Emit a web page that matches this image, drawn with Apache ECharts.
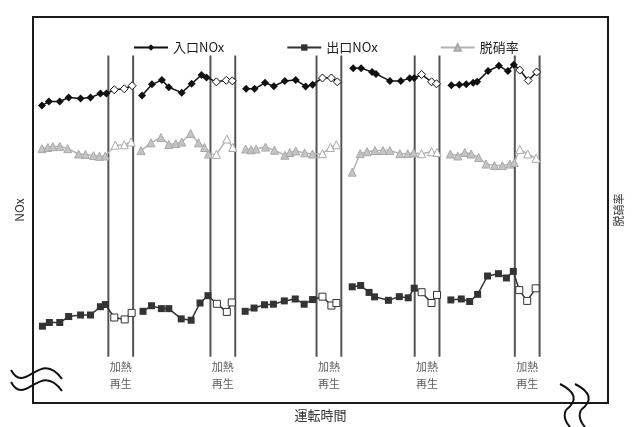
<!DOCTYPE html>
<html>
<head>
<meta charset="utf-8">
<script src="https://cdn.jsdelivr.net/npm/echarts@6/dist/echarts.min.js"></script>
<style>
  html, body { margin: 0; padding: 0; background: #fff; }
  #chart { width: 632px; height: 427px; }
</style>
</head>
<body>
<div id="chart"></div>
<script>
// 運転時間 (h)
var inletHours = [1.8, 3.2, 5.4, 7.2, 9.6, 11.6, 13.6, 14.8, 16.4, 18.4, 20.0,
    22, 24, 26, 27.4, 30, 32, 34, 35, 37, 39, 40.2,
    43, 44.7, 46.8, 48.6, 50.8, 53, 55, 56.4, 58.4, 60.2, 61.4,
    64.6, 66.2, 68.4, 69.2, 72, 74.2, 76, 76.9, 78.4, 80.4, 81.4,
    84.4, 86, 87.4, 88.8, 89.6, 91.8, 94, 95.8, 97, 98.2, 99.9, 101.6];
var inletNOx = [154.2, 156.2, 156.2, 158.3, 157.8, 158.3, 160.3, 160.3, 162.3, 162.8, 164.4,
    159.3, 165.1, 167.3, 163.6, 160.8, 165.4, 170.0, 168.7, 166.4, 167.2, 166.9,
    162.8, 162.8, 165.9, 164.1, 166.9, 167.4, 164.0, 164.9, 168.4, 168.4, 166.4,
    173.5, 173.5, 171.5, 170.5, 166.9, 166.9, 168.2, 168.4, 170.2, 166.4, 165.4,
    164.6, 164.9, 165.1, 165.9, 166.4, 172.0, 174.7, 172.0, 175.3, 172.5, 167.1, 171.5];

var outletHours = [1.9, 3.3, 5.4, 7.2, 9.6, 11.6, 13.6, 14.6, 16.4, 18.5, 19.9,
    22.2, 23.9, 25.9, 27.4, 29.9, 31.9, 33.7, 35.3, 37.1, 39.1, 40.1,
    42.8, 44.6, 46.7, 48.5, 50.7, 52.9, 54.7, 56.4, 58.4, 60.2, 61.2,
    64.4, 66.1, 67.8, 68.9, 71.7, 73.9, 75.7, 76.9, 78.4, 80.4, 81.5,
    84.3, 86.4, 88.1, 89.7, 91.7, 93.9, 95.5, 96.9, 98.1, 99.7, 101.4];
var outletNOx = [39.8, 41.7, 41.7, 44.8, 45.6, 45.6, 49.9, 51.0, 44.3, 43.3, 46.7,
    47.5, 50.4, 48.9, 48.9, 43.6, 42.9, 51.8, 55.6, 51.4, 47.2, 52.1,
    47.5, 49.2, 50.9, 51.2, 52.9, 53.9, 51.2, 53.6, 55.1, 50.5, 51.8,
    60.2, 60.9, 57.3, 55.0, 53.2, 55.1, 54.5, 59.5, 57.4, 51.8, 56.0,
    53.4, 53.9, 52.6, 56.3, 65.8, 67.0, 64.8, 68.2, 58.5, 52.9, 59.4];

var rateHours = [1.8, 3, 4, 5.4, 7, 9.2, 10.6, 12.2, 13.4, 14.6, 16.6, 18.4, 19.8,
    21.8, 23.8, 25.8, 27.4, 28.8, 30, 31.8, 33.4, 34.6, 35.4, 37, 39.1, 40.3,
    42.9, 44, 45, 46.9, 48.7, 50.8, 51.8, 53, 54.8, 56.4, 58.4, 60, 61.2,
    64.4, 66, 67.4, 69, 70.6, 72, 74, 75.6, 76.8, 78.4, 80.4, 81.5,
    84.2, 85.7, 87.1, 88.4, 89.9, 91.4, 93.1, 94.7, 96.2, 97.1, 98.2, 99.8, 101.5];
var denoxRate = [65.9, 66.2, 66.4, 66.5, 65.9, 64.5, 64.4, 64.1, 63.9, 64.0, 66.8, 66.9, 67.6,
    65.4, 67.4, 68.8, 67.0, 67.2, 67.6, 69.8, 67.4, 66.2, 64.5, 64.4, 68.4, 66.2,
    65.8, 65.6, 65.8, 66.3, 65.5, 64.2, 64.9, 65.3, 64.8, 64.5, 64.6, 66.2, 66.9,
    59.8, 64.6, 65.1, 65.4, 65.4, 65.4, 64.6, 64.6, 64.8, 64.6, 65.1, 64.9,
    64.5, 64.0, 64.9, 64.5, 63.6, 61.9, 61.5, 61.5, 61.9, 62.3, 65.7, 64.5, 63.4];

// 加熱再生の区間
var regenStart = [15.2, 35.8, 57.2, 77.0, 97.2];
var regenLength = 5;
var regenLineRange = [24, 180];

var FONT = '"Noto Sans CJK JP", "Noto Sans", sans-serif';

function inRegen(h) {
    for (var k = 0; k < regenStart.length; k++) {
        if (h >= regenStart[k] && h <= regenStart[k] + regenLength) return true;
    }
    return false;
}

// 再生後は線を切る、再生中は白抜きマーカー
function buildData(hours, values, openStyle) {
    var out = [];
    for (var i = 0; i < hours.length; i++) {
        var h = hours[i];
        if (i > 0) {
            for (var k = 0; k < regenStart.length; k++) {
                var end = regenStart[k] + regenLength;
                if (hours[i - 1] <= end && h > end) out.push([end, '-']);
            }
        }
        if (inRegen(h)) {
            out.push({ value: [h, values[i]], itemStyle: openStyle });
        } else {
            out.push([h, values[i]]);
        }
    }
    return out;
}

var regenLines = [];
var regenLabels = [];
regenStart.forEach(function (s) {
    var e = s + regenLength;
    regenLines.push([s, regenLineRange[0]], [s, regenLineRange[1]], [s, '-']);
    regenLines.push([e, regenLineRange[0]], [e, regenLineRange[1]], [e, '-']);
    regenLabels.push([s + regenLength / 2, regenLineRange[0]]);
});

var chart = echarts.init(document.getElementById('chart'));

var option = {
    animation: false,
    textStyle: { fontFamily: FONT },
    legend: {
        data: ['入口NOx', '出口NOx', '脱硝率'],
        left: 128,
        top: 36,
        itemWidth: 34,
        itemHeight: 8,
        itemGap: 62,
        textStyle: { fontSize: 13, color: '#1a1a1a', fontFamily: FONT }
    },
    grid: {
        left: 33, right: 19, top: 17, bottom: 17,
        show: true,
        borderColor: '#1a1a1a',
        borderWidth: 2
    },
    xAxis: {
        type: 'value',
        min: 0,
        max: 116,
        name: '運転時間',
        nameLocation: 'middle',
        nameGap: 6,
        nameTextStyle: { fontSize: 13, color: '#333', verticalAlign: 'top' },
        axisLine: { show: false },
        axisTick: { show: false },
        axisLabel: { show: false },
        splitLine: { show: false }
    },
    yAxis: [{
        type: 'value',
        min: 0,
        max: 200,
        name: 'NOx',
        nameLocation: 'middle',
        nameGap: 8,
        nameTextStyle: { fontSize: 12, color: '#333' },
        axisLine: { show: false },
        axisTick: { show: false },
        axisLabel: { show: false },
        splitLine: { show: false }
    }, {
        type: 'value',
        min: 0,
        max: 100,
        name: '脱硝率',
        nameLocation: 'middle',
        nameGap: 5,
        nameTextStyle: { fontSize: 11, color: '#333' },
        axisLine: { show: false },
        axisTick: { show: false },
        axisLabel: { show: false },
        splitLine: { show: false }
    }],
    series: [{
        name: 'regen',
        type: 'line',
        data: regenLines,
        symbol: 'none',
        silent: true,
        z: 1,
        lineStyle: { color: '#555', width: 2 }
    }, {
        name: 'regenLabel',
        type: 'scatter',
        data: regenLabels,
        symbolSize: 0,
        silent: true,
        label: {
            show: true,
            position: 'bottom',
            distance: 2,
            formatter: '加熱\n再生',
            fontSize: 11,
            lineHeight: 17,
            color: '#333',
            fontFamily: FONT
        }
    }, {
        name: '入口NOx',
        type: 'line',
        data: buildData(inletHours, inletNOx, { color: '#fff', borderColor: '#111', borderWidth: 1 }),
        symbol: 'diamond',
        symbolSize: 8,
        showAllSymbol: true,
        connectNulls: false,
        z: 3,
        itemStyle: { color: '#111' },
        lineStyle: { color: '#111', width: 1.5 }
    }, {
        name: '出口NOx',
        type: 'line',
        data: buildData(outletHours, outletNOx, { color: '#fff', borderColor: '#333', borderWidth: 1 }),
        symbol: 'rect',
        symbolSize: 7,
        showAllSymbol: true,
        connectNulls: false,
        z: 3,
        itemStyle: { color: '#333' },
        lineStyle: { color: '#333', width: 1.5 }
    }, {
        name: '脱硝率',
        type: 'line',
        yAxisIndex: 1,
        data: buildData(rateHours, denoxRate, { color: '#fff', borderColor: '#aaa', borderWidth: 1 }),
        symbol: 'triangle',
        symbolSize: 8,
        showAllSymbol: true,
        connectNulls: false,
        z: 3,
        itemStyle: { color: '#c4c4c4', borderColor: '#a8a8a8', borderWidth: 1 },
        lineStyle: { color: '#b4b4b4', width: 1.5 }
    }],
    // 軸の省略記号
    graphic: [
        { type: 'bezierCurve', shape: { x1: 11, y1: 370, cpx1: 25, cpy1: 396, cpx2: 40, cpy2: 348, x2: 62, y2: 379 },
          style: { stroke: '#111', lineWidth: 2, fill: null }, z: 10 },
        { type: 'bezierCurve', shape: { x1: 11, y1: 382, cpx1: 25, cpy1: 408, cpx2: 40, cpy2: 360, x2: 62, y2: 391 },
          style: { stroke: '#111', lineWidth: 2, fill: null }, z: 10 },
        { type: 'rect', shape: { x: 567, y: 405, width: 13, height: 9 }, style: { fill: '#fff' }, z: 9 },
        { type: 'bezierCurve', shape: { x1: 560, y1: 384, cpx1: 584, cpy1: 396, x2: 566, y2: 410 },
          style: { stroke: '#111', lineWidth: 2, fill: null }, z: 10 },
        { type: 'bezierCurve', shape: { x1: 566, y1: 410, cpx1: 562, cpy1: 418, x2: 570, y2: 427 },
          style: { stroke: '#111', lineWidth: 2, fill: null }, z: 10 },
        { type: 'bezierCurve', shape: { x1: 575, y1: 384, cpx1: 599, cpy1: 396, x2: 581, y2: 410 },
          style: { stroke: '#111', lineWidth: 2, fill: null }, z: 10 },
        { type: 'bezierCurve', shape: { x1: 581, y1: 410, cpx1: 577, cpy1: 418, x2: 585, y2: 427 },
          style: { stroke: '#111', lineWidth: 2, fill: null }, z: 10 }
    ]
};

chart.setOption(option);
</script>
</body>
</html>
